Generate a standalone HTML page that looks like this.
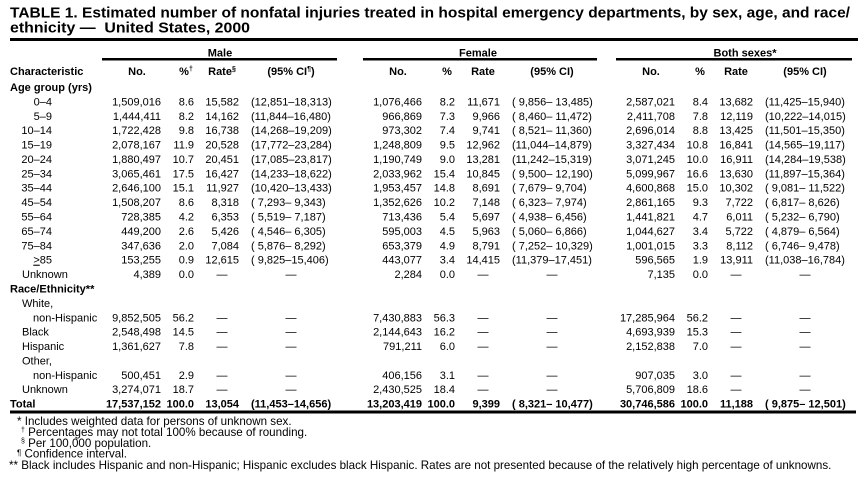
<!DOCTYPE html>
<html><head><meta charset="utf-8"><style>
html,body{margin:0;padding:0;background:#fff;}
svg{display:block;}
text{white-space:pre;}
</style></head><body>
<svg width="862" height="482" viewBox="0 0 862 482" xmlns="http://www.w3.org/2000/svg" font-family="'Liberation Sans', Arial, Helvetica, sans-serif" font-size="11" fill="#000">
<rect x="0" y="0" width="862" height="482" fill="#fff"/>
<text x="10" y="17.5" font-size="15" font-weight="bold" textLength="840" lengthAdjust="spacingAndGlyphs">TABLE 1. Estimated number of nonfatal injuries treated in hospital emergency departments, by sex, age, and race/</text>
<text x="10" y="32.5" font-size="15" font-weight="bold" textLength="240" lengthAdjust="spacingAndGlyphs">ethnicity —  United States, 2000</text>
<rect x="10" y="38" width="848" height="3"/>
<rect x="102" y="58" width="235" height="2.5"/>
<rect x="363" y="58" width="234" height="2.5"/>
<rect x="616" y="58" width="236" height="2.5"/>
<rect x="10" y="410.5" width="846" height="3"/>

<g font-weight="bold" text-anchor="middle">
<text x="220" y="56.5">Male</text>
<text x="478" y="56.5">Female</text>
<text x="745" y="56.5">Both sexes*</text>
<text x="137" y="75">No.</text>
<text x="186" y="75">%<tspan font-size="7" dy="-4">†</tspan></text>
<text x="222" y="75">Rate<tspan font-size="7" dy="-4">§</tspan></text>
<text x="291" y="75">(95% CI<tspan font-size="7" dy="-4">¶</tspan><tspan dy="4">)</tspan></text>
<text x="398" y="75">No.</text>
<text x="447" y="75">%</text>
<text x="483" y="75">Rate</text>
<text x="552" y="75">(95% CI)</text>
<text x="651" y="75">No.</text>
<text x="700" y="75">%</text>
<text x="736" y="75">Rate</text>
<text x="805" y="75">(95% CI)</text>
</g>
<g font-weight="bold">
<text x="10" y="75">Characteristic</text>
<text x="10" y="91">Age group (yrs)</text>
<text x="10" y="292.5">Race/Ethnicity**</text>
<text x="10" y="407.6">Total</text>
</g>

<!-- row labels -->
<g text-anchor="end">
<text x="52" y="105.4">0–4</text>
<text x="52" y="119.8">5–9</text>
<text x="52" y="134.2">10–14</text>
<text x="52" y="148.6">15–19</text>
<text x="52" y="163.0">20–24</text>
<text x="52" y="177.4">25–34</text>
<text x="52" y="191.7">35–44</text>
<text x="52" y="206.1">45–54</text>
<text x="52" y="220.5">55–64</text>
<text x="52" y="234.9">65–74</text>
<text x="52" y="249.3">75–84</text>
<text x="52" y="263.7"><tspan text-decoration="underline">&gt;</tspan>85</text>
</g>
<text x="22" y="278.1">Unknown</text>
<text x="22" y="306.9">White,</text>
<text x="33" y="321.3">non-Hispanic</text>
<text x="22" y="335.6">Black</text>
<text x="22" y="350.0">Hispanic</text>
<text x="22" y="364.4">Other,</text>
<text x="33" y="378.8">non-Hispanic</text>
<text x="22" y="393.2">Unknown</text>

<!-- MALE -->
<g text-anchor="end">
<text x="161" y="105.4">1,509,016</text><text x="194" y="105.4">8.6</text><text x="239" y="105.4">15,582</text>
<text x="161" y="119.8">1,444,411</text><text x="194" y="119.8">8.2</text><text x="239" y="119.8">14,162</text>
<text x="161" y="134.2">1,722,428</text><text x="194" y="134.2">9.8</text><text x="239" y="134.2">16,738</text>
<text x="161" y="148.6">2,078,167</text><text x="194" y="148.6">11.9</text><text x="239" y="148.6">20,528</text>
<text x="161" y="163.0">1,880,497</text><text x="194" y="163.0">10.7</text><text x="239" y="163.0">20,451</text>
<text x="161" y="177.4">3,065,461</text><text x="194" y="177.4">17.5</text><text x="239" y="177.4">16,427</text>
<text x="161" y="191.7">2,646,100</text><text x="194" y="191.7">15.1</text><text x="239" y="191.7">11,927</text>
<text x="161" y="206.1">1,508,207</text><text x="194" y="206.1">8.6</text><text x="239" y="206.1">8,318</text>
<text x="161" y="220.5">728,385</text><text x="194" y="220.5">4.2</text><text x="239" y="220.5">6,353</text>
<text x="161" y="234.9">449,200</text><text x="194" y="234.9">2.6</text><text x="239" y="234.9">5,426</text>
<text x="161" y="249.3">347,636</text><text x="194" y="249.3">2.0</text><text x="239" y="249.3">7,084</text>
<text x="161" y="263.7">153,255</text><text x="194" y="263.7">0.9</text><text x="239" y="263.7">12,615</text>
<text x="161" y="278.1">4,389</text><text x="194" y="278.1">0.0</text>
<text x="161" y="321.3">9,852,505</text><text x="194" y="321.3">56.2</text>
<text x="161" y="335.6">2,548,498</text><text x="194" y="335.6">14.5</text>
<text x="161" y="350.0">1,361,627</text><text x="194" y="350.0">7.8</text>
<text x="161" y="378.8">500,451</text><text x="194" y="378.8">2.9</text>
<text x="161" y="393.2">3,274,071</text><text x="194" y="393.2">18.7</text>
<g font-weight="bold"><text x="161" y="407.6">17,537,152</text><text x="194" y="407.6">100.0</text><text x="239" y="407.6">13,054</text></g>
</g>
<g>
<text x="251" y="105.4">(12,851–18,313)</text>
<text x="251" y="119.8">(11,844–16,480)</text>
<text x="251" y="134.2">(14,268–19,209)</text>
<text x="251" y="148.6">(17,772–23,284)</text>
<text x="251" y="163.0">(17,085–23,817)</text>
<text x="251" y="177.4">(14,233–18,622)</text>
<text x="251" y="191.7">(10,420–13,433)</text>
<text x="251" y="206.1">( 7,293– 9,343)</text>
<text x="251" y="220.5">( 5,519– 7,187)</text>
<text x="251" y="234.9">( 4,546– 6,305)</text>
<text x="251" y="249.3">( 5,876– 8,292)</text>
<text x="251" y="263.7">( 9,825–15,406)</text>
<text x="251" y="407.6" font-weight="bold">(11,453–14,656)</text>
</g>

<!-- FEMALE -->
<g text-anchor="end">
<text x="422" y="105.4">1,076,466</text><text x="455" y="105.4">8.2</text><text x="500" y="105.4">11,671</text>
<text x="422" y="119.8">966,869</text><text x="455" y="119.8">7.3</text><text x="500" y="119.8">9,966</text>
<text x="422" y="134.2">973,302</text><text x="455" y="134.2">7.4</text><text x="500" y="134.2">9,741</text>
<text x="422" y="148.6">1,248,809</text><text x="455" y="148.6">9.5</text><text x="500" y="148.6">12,962</text>
<text x="422" y="163.0">1,190,749</text><text x="455" y="163.0">9.0</text><text x="500" y="163.0">13,281</text>
<text x="422" y="177.4">2,033,962</text><text x="455" y="177.4">15.4</text><text x="500" y="177.4">10,845</text>
<text x="422" y="191.7">1,953,457</text><text x="455" y="191.7">14.8</text><text x="500" y="191.7">8,691</text>
<text x="422" y="206.1">1,352,626</text><text x="455" y="206.1">10.2</text><text x="500" y="206.1">7,148</text>
<text x="422" y="220.5">713,436</text><text x="455" y="220.5">5.4</text><text x="500" y="220.5">5,697</text>
<text x="422" y="234.9">595,003</text><text x="455" y="234.9">4.5</text><text x="500" y="234.9">5,963</text>
<text x="422" y="249.3">653,379</text><text x="455" y="249.3">4.9</text><text x="500" y="249.3">8,791</text>
<text x="422" y="263.7">443,077</text><text x="455" y="263.7">3.4</text><text x="500" y="263.7">14,415</text>
<text x="422" y="278.1">2,284</text><text x="455" y="278.1">0.0</text>
<text x="422" y="321.3">7,430,883</text><text x="455" y="321.3">56.3</text>
<text x="422" y="335.6">2,144,643</text><text x="455" y="335.6">16.2</text>
<text x="422" y="350.0">791,211</text><text x="455" y="350.0">6.0</text>
<text x="422" y="378.8">406,156</text><text x="455" y="378.8">3.1</text>
<text x="422" y="393.2">2,430,525</text><text x="455" y="393.2">18.4</text>
<g font-weight="bold"><text x="422" y="407.6">13,203,419</text><text x="455" y="407.6">100.0</text><text x="500" y="407.6">9,399</text></g>
</g>
<g>
<text x="512" y="105.4">( 9,856– 13,485)</text>
<text x="512" y="119.8">( 8,460– 11,472)</text>
<text x="512" y="134.2">( 8,521– 11,360)</text>
<text x="512" y="148.6">(11,044–14,879)</text>
<text x="512" y="163.0">(11,242–15,319)</text>
<text x="512" y="177.4">( 9,500– 12,190)</text>
<text x="512" y="191.7">( 7,679– 9,704)</text>
<text x="512" y="206.1">( 6,323– 7,974)</text>
<text x="512" y="220.5">( 4,938– 6,456)</text>
<text x="512" y="234.9">( 5,060– 6,866)</text>
<text x="512" y="249.3">( 7,252– 10,329)</text>
<text x="512" y="263.7">(11,379–17,451)</text>
<text x="512" y="407.6" font-weight="bold">( 8,321– 10,477)</text>
</g>

<!-- BOTH -->
<g text-anchor="end">
<text x="675" y="105.4">2,587,021</text><text x="708" y="105.4">8.4</text><text x="753" y="105.4">13,682</text>
<text x="675" y="119.8">2,411,708</text><text x="708" y="119.8">7.8</text><text x="753" y="119.8">12,119</text>
<text x="675" y="134.2">2,696,014</text><text x="708" y="134.2">8.8</text><text x="753" y="134.2">13,425</text>
<text x="675" y="148.6">3,327,434</text><text x="708" y="148.6">10.8</text><text x="753" y="148.6">16,841</text>
<text x="675" y="163.0">3,071,245</text><text x="708" y="163.0">10.0</text><text x="753" y="163.0">16,911</text>
<text x="675" y="177.4">5,099,967</text><text x="708" y="177.4">16.6</text><text x="753" y="177.4">13,630</text>
<text x="675" y="191.7">4,600,868</text><text x="708" y="191.7">15.0</text><text x="753" y="191.7">10,302</text>
<text x="675" y="206.1">2,861,165</text><text x="708" y="206.1">9.3</text><text x="753" y="206.1">7,722</text>
<text x="675" y="220.5">1,441,821</text><text x="708" y="220.5">4.7</text><text x="753" y="220.5">6,011</text>
<text x="675" y="234.9">1,044,627</text><text x="708" y="234.9">3.4</text><text x="753" y="234.9">5,722</text>
<text x="675" y="249.3">1,001,015</text><text x="708" y="249.3">3.3</text><text x="753" y="249.3">8,112</text>
<text x="675" y="263.7">596,565</text><text x="708" y="263.7">1.9</text><text x="753" y="263.7">13,911</text>
<text x="675" y="278.1">7,135</text><text x="708" y="278.1">0.0</text>
<text x="675" y="321.3">17,285,964</text><text x="708" y="321.3">56.2</text>
<text x="675" y="335.6">4,693,939</text><text x="708" y="335.6">15.3</text>
<text x="675" y="350.0">2,152,838</text><text x="708" y="350.0">7.0</text>
<text x="675" y="378.8">907,035</text><text x="708" y="378.8">3.0</text>
<text x="675" y="393.2">5,706,809</text><text x="708" y="393.2">18.6</text>
<g font-weight="bold"><text x="675" y="407.6">30,746,586</text><text x="708" y="407.6">100.0</text><text x="753" y="407.6">11,188</text></g>
</g>
<g>
<text x="765" y="105.4">(11,425–15,940)</text>
<text x="765" y="119.8">(10,222–14,015)</text>
<text x="765" y="134.2">(11,501–15,350)</text>
<text x="765" y="148.6">(14,565–19,117)</text>
<text x="765" y="163.0">(14,284–19,538)</text>
<text x="765" y="177.4">(11,897–15,364)</text>
<text x="765" y="191.7">( 9,081– 11,522)</text>
<text x="765" y="206.1">( 6,817– 8,626)</text>
<text x="765" y="220.5">( 5,232– 6,790)</text>
<text x="765" y="234.9">( 4,879– 6,564)</text>
<text x="765" y="249.3">( 6,746– 9,478)</text>
<text x="765" y="263.7">(11,038–16,784)</text>
<text x="765" y="407.6" font-weight="bold">( 9,875– 12,501)</text>
</g>

<!-- dashes -->
<g text-anchor="middle">
<text x="222" y="278.1">—</text><text x="291" y="278.1">—</text>
<text x="483" y="278.1">—</text><text x="552" y="278.1">—</text>
<text x="736" y="278.1">—</text><text x="805" y="278.1">—</text>
<text x="222" y="321.3">—</text><text x="291" y="321.3">—</text>
<text x="483" y="321.3">—</text><text x="552" y="321.3">—</text>
<text x="736" y="321.3">—</text><text x="805" y="321.3">—</text>
<text x="222" y="335.6">—</text><text x="291" y="335.6">—</text>
<text x="483" y="335.6">—</text><text x="552" y="335.6">—</text>
<text x="736" y="335.6">—</text><text x="805" y="335.6">—</text>
<text x="222" y="350.0">—</text><text x="291" y="350.0">—</text>
<text x="483" y="350.0">—</text><text x="552" y="350.0">—</text>
<text x="736" y="350.0">—</text><text x="805" y="350.0">—</text>
<text x="222" y="378.8">—</text><text x="291" y="378.8">—</text>
<text x="483" y="378.8">—</text><text x="552" y="378.8">—</text>
<text x="736" y="378.8">—</text><text x="805" y="378.8">—</text>
<text x="222" y="393.2">—</text><text x="291" y="393.2">—</text>
<text x="483" y="393.2">—</text><text x="552" y="393.2">—</text>
<text x="736" y="393.2">—</text><text x="805" y="393.2">—</text>
</g>

<!-- footnotes -->
<g font-size="11.6">
<text x="17" y="425">* Includes weighted data for persons of unknown sex.</text>
<text x="21" y="436"><tspan font-size="7" dy="-4">†</tspan><tspan dy="4"> Percentages may not total 100% because of rounding.</tspan></text>
<text x="21" y="447"><tspan font-size="7" dy="-4">§</tspan><tspan dy="4"> Per 100,000 population.</tspan></text>
<text x="17" y="457.5"><tspan font-size="8" dy="-2">¶</tspan><tspan dy="2"> Confidence interval.</tspan></text>
<text x="9" y="469">** Black includes Hispanic and non-Hispanic; Hispanic excludes black Hispanic. Rates are not presented because of the relatively high percentage of unknowns.</text>
</g>
</svg>
</body></html>
